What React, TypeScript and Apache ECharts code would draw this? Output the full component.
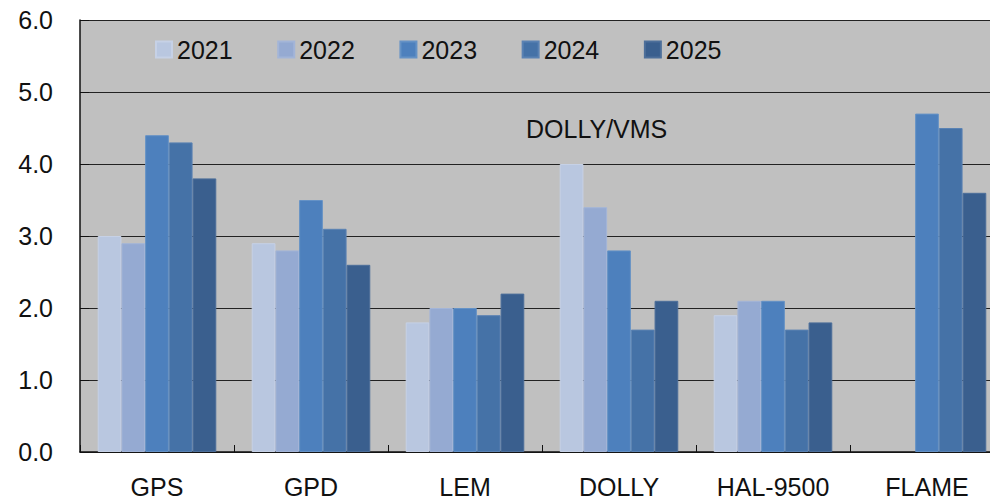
import React, { useEffect, useRef } from "react";
import * as echarts from "echarts";

const categories = ["GPS", "GPD", "LEM", "DOLLY", "HAL-9500", "FLAME"];
const years = ["2021", "2022", "2023", "2024", "2025"];
const v2021 = [3.0, 2.9, 1.8, 4.0, 1.9, null];
const v2022 = [2.9, 2.8, 2.0, 3.4, 2.1, null];
const v2023 = [4.4, 3.5, 2.0, 2.8, 2.1, 4.7];
const v2024 = [4.3, 3.1, 1.9, 1.7, 1.7, 4.5];
const v2025 = [3.8, 2.6, 2.2, 2.1, 1.8, 3.6];
const seriesValues = [v2021, v2022, v2023, v2024, v2025];
const colors = ["#B9C7E0", "#95AAD2", "#4D80BD", "#4572A7", "#3A5F8E"];
const borders = ["#C6D1E6", "#A3B5D8", "#6592C6", "#5A82B3", "#4D6F9A"];
const annotation = "DOLLY/VMS";

export default function App() {
  const ref = useRef<HTMLDivElement>(null);
  useEffect(() => {
    if (!ref.current) return;
    const chart = echarts.init(ref.current, null, { renderer: "svg" });
    const font = "'Liberation Sans', Arial, sans-serif";
    const fs = 25;
    chart.setOption({
      animation: false,
      backgroundColor: "#ffffff",
      textStyle: { fontFamily: font },
      grid: { left: 80, top: 20, right: 16, bottom: 46, show: true, backgroundColor: "#C0C0C0", borderWidth: 0 },
      legend: {
        data: years,
        left: 150,
        top: 32,
        icon: "rect",
        itemWidth: 16,
        itemHeight: 16,
        itemGap: 44.6,
        textStyle: { fontSize: fs, color: "#111", fontFamily: font },
      },
      graphic: [
        {
          type: "text",
          left: 526,
          top: 116,
          style: { text: annotation, fontSize: fs, fill: "#111", fontFamily: font },
        },
      ],
      xAxis: {
        type: "category",
        data: categories,
        axisLine: { show: true, lineStyle: { color: "#111", width: 1.5 } },
        axisTick: { show: true, inside: true, length: 7, lineStyle: { color: "#111" } },
        axisLabel: { fontSize: fs, color: "#111", margin: 22, fontFamily: font },
      },
      yAxis: {
        type: "value",
        min: 0,
        max: 6,
        interval: 1,
        axisLine: { show: true, lineStyle: { color: "#111", width: 1.5 } },
        axisTick: { show: true, inside: true, length: 9, lineStyle: { color: "#111" } },
        axisLabel: {
          fontSize: fs,
          color: "#111",
          margin: 27,
          fontFamily: font,
          formatter: (v: number) => v.toFixed(1),
        },
        splitLine: { show: true, lineStyle: { color: "#222", width: 1 } },
      },
      series: years.map((y, i) => ({
        name: y,
        type: "bar",
        data: seriesValues[i],
        barGap: "0%",
        barCategoryGap: "23%",
        itemStyle: { color: colors[i], borderColor: borders[i], borderWidth: 1 },
      })),
    });
    return () => chart.dispose();
  }, []);
  return (
    <div style={{ position: "fixed", left: 0, top: 0, width: 990, height: 499, overflow: "hidden" }}>
      <div ref={ref} style={{ width: 1020, height: 499 }} />
    </div>
  );
}
